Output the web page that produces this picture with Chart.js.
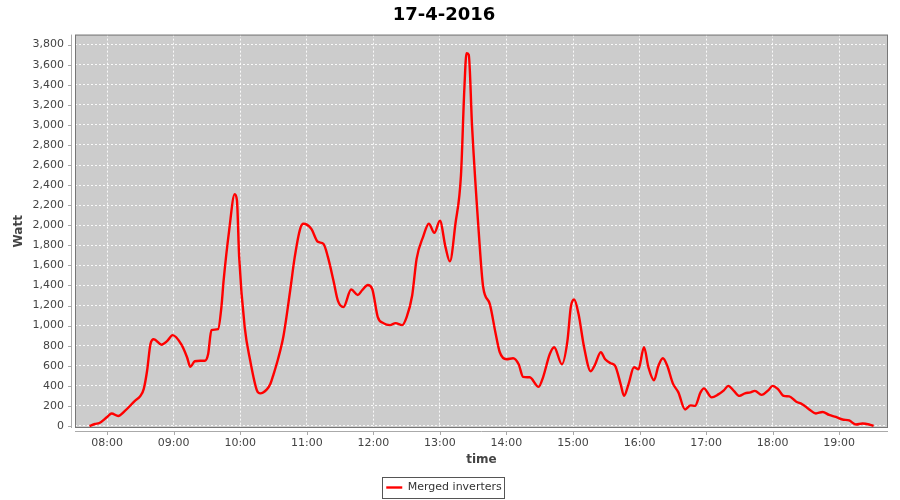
<!DOCTYPE html>
<html>
<head>
<meta charset="utf-8">
<title>17-4-2016</title>
<script src="https://cdn.jsdelivr.net/npm/chart.js@4.4.1/dist/chart.umd.min.js"></script>
<style>
  html, body { margin: 0; padding: 0; background: #fff; }
  #wrap { width: 900px; height: 500px; position: relative; }
</style>
</head>
<body>
<div id="wrap"><canvas id="chart"></canvas></div>
<script>
const chartTitle = "17-4-2016";
const seriesName = "Merged inverters";

// sample times (HH:MM) and power in watt
const times = [
  "07:44", "07:49", "07:53", "08:00", "08:04", "08:10", "08:16", "08:25", "08:30", "08:33",
  "08:36", "08:39", "08:42", "08:49", "08:54", "08:59", "09:07", "09:12", "09:15", "09:19",
  "09:24", "09:28", "09:31", "09:34", "09:40", "09:43", "09:45", "09:50", "09:55", "09:57",
  "09:59", "10:04", "10:09", "10:15", "10:18", "10:24", "10:27", "10:30", "10:34", "10:39",
  "10:45", "10:49", "10:54", "10:57", "11:04", "11:10", "11:15", "11:19", "11:24", "11:28",
  "11:33", "11:40", "11:46", "11:50", "11:55", "11:59", "12:04", "12:09", "12:15", "12:20",
  "12:26", "12:30", "12:35", "12:39", "12:45", "12:50", "12:55", "13:00", "13:05", "13:09",
  "13:14", "13:19", "13:22", "13:24", "13:26", "13:29", "13:35", "13:39", "13:45", "13:50",
  "13:54", "14:00", "14:06", "14:11", "14:15", "14:21", "14:29", "14:33", "14:39", "14:43",
  "14:50", "14:55", "14:58", "15:01", "15:05", "15:10", "15:16", "15:20", "15:25", "15:29",
  "15:34", "15:38", "15:43", "15:46", "15:50", "15:55", "15:59", "16:04", "16:08", "16:13",
  "16:17", "16:21", "16:25", "16:30", "16:35", "16:41", "16:46", "16:50", "16:55", "16:58",
  "17:05", "17:11", "17:16", "17:20", "17:25", "17:30", "17:35", "17:40", "17:44", "17:50",
  "17:56", "18:00", "18:05", "18:10", "18:15", "18:21", "18:27", "18:33", "18:39", "18:45",
  "18:51", "18:57", "19:03", "19:09", "19:15", "19:21", "19:27", "19:31"
];
const watts = [
  0, 20, 30, 90, 125, 100, 150, 250, 300, 370,
  550, 815, 865, 810, 845, 905, 810, 685, 590, 645,
  650, 650, 715, 955, 965, 1185, 1450, 1950, 2310, 2250,
  1685, 985, 650, 355, 325, 365, 415, 515, 665, 900,
  1350, 1675, 1965, 2015, 1965, 1835, 1815, 1685, 1450, 1250,
  1185, 1360, 1305, 1355, 1405, 1365, 1085, 1025, 1005, 1025,
  1005, 1085, 1300, 1665, 1890, 2015, 1925, 2045, 1785, 1640,
  2015, 2500, 3350, 3715, 3700, 2985, 1935, 1385, 1215, 935,
  735, 665, 675, 615, 490, 485, 390, 485, 715, 785,
  615, 850, 1185, 1260, 1115, 785, 545, 615, 735, 665,
  625, 600, 415, 300, 415, 585, 565, 785, 585, 455,
  600, 675, 600, 425, 335, 165, 205, 200, 335, 375,
  285, 315, 355, 400, 350, 300, 325, 335, 350, 310,
  355, 400, 365, 300, 295, 245, 215, 165, 125, 140,
  110, 90, 65, 55, 15, 25, 15, 0
];

const hourTicks = ["08:00", "09:00", "10:00", "11:00", "12:00", "13:00",
                   "14:00", "15:00", "16:00", "17:00", "18:00", "19:00"];
const wattTicks = [0, 200, 400, 600, 800, 1000, 1200, 1400, 1600, 1800,
                   2000, 2200, 2400, 2600, 2800, 3000, 3200, 3400, 3600, 3800];

const FONT = "DejaVu Sans";

function toMin(s) {
  const [h, m] = s.split(":");
  return Number(h) * 60 + Number(m);
}

function fmtMin(v) {
  const h = Math.floor(v / 60);
  const m = Math.round(v % 60);
  return String(h).padStart(2, "0") + ":" + String(m).padStart(2, "0");
}

const points = times.map((t, i) => ({ x: toMin(t), y: watts[i] }));

// grey plot background, frame, offset axis lines and legend box (JFreeChart look)
const plotFrame = {
  id: "plotFrame",
  beforeDraw(chart) {
    const { ctx, chartArea: a } = chart;
    ctx.save();
    ctx.fillStyle = "#cccccc";
    ctx.fillRect(a.left, a.top, a.right - a.left, a.bottom - a.top);
    ctx.restore();
  },
  afterDraw(chart) {
    const { ctx, chartArea: a, scales } = chart;
    ctx.save();
    ctx.strokeStyle = "#777";
    ctx.lineWidth = 1;
    ctx.strokeRect(a.left + 0.5, a.top + 0.5, a.right - a.left - 1, a.bottom - a.top - 1);

    // axis lines, set off from the plot
    ctx.strokeStyle = "#aaa";
    ctx.beginPath();
    ctx.moveTo(a.left - 3.5, a.top);
    ctx.lineTo(a.left - 3.5, a.bottom);
    ctx.moveTo(a.left, a.bottom + 3.5);
    ctx.lineTo(a.right, a.bottom + 3.5);
    // tick marks
    scales.y.ticks.forEach(t => {
      const y = Math.round(scales.y.getPixelForValue(t.value)) + 0.5;
      ctx.moveTo(a.left - 7, y);
      ctx.lineTo(a.left - 3.5, y);
    });
    scales.x.ticks.forEach(t => {
      const x = Math.round(scales.x.getPixelForValue(t.value)) + 0.5;
      ctx.moveTo(x, a.bottom + 3.5);
      ctx.lineTo(x, a.bottom + 7);
    });
    ctx.stroke();

    // legend border
    const hb = chart.legend && chart.legend.legendHitBoxes && chart.legend.legendHitBoxes[0];
    if (hb) {
      ctx.strokeStyle = "#555";
      ctx.strokeRect(Math.round(hb.left) - 3.5, Math.round(hb.top) - 4.5,
                     Math.round(hb.width) + 7, Math.round(hb.height) + 10);
    }
    ctx.restore();
  }
};

new Chart(document.getElementById("chart"), {
  type: "line",
  data: {
    datasets: [{
      label: seriesName,
      data: points,
      borderColor: "#ff0000",
      backgroundColor: "#ff0000",
      borderWidth: 2.4,
      pointRadius: 0,
      cubicInterpolationMode: "monotone",
      fill: false
    }]
  },
  options: {
    responsive: true,
    maintainAspectRatio: false,
    animation: false,
    layout: { padding: { left: 0, right: 12, top: 0, bottom: -3 } },
    plugins: {
      title: {
        display: true,
        text: chartTitle,
        color: "#000",
        font: { family: FONT, size: 18, weight: "bold" },
        padding: { top: 5, bottom: 8 }
      },
      legend: {
        position: "bottom",
        labels: {
          usePointStyle: true,
          pointStyle: "line",
          pointStyleWidth: 16,
          color: "#333",
          font: { family: FONT, size: 11 },
          padding: 4
        }
      },
      tooltip: { enabled: false }
    },
    scales: {
      x: {
        type: "linear",
        min: 451,
        max: 1184,
        afterBuildTicks: s => { s.ticks = hourTicks.map(t => ({ value: toMin(t) })); },
        afterFit: s => { s.height = 50; },
        ticks: {
          callback: v => fmtMin(v),
          color: "#444",
          font: { family: FONT, size: 11 },
          padding: 9,
          autoSkip: false,
          maxRotation: 0
        },
        grid: { color: "rgba(255,255,255,0.9)", lineWidth: 1, drawTicks: false },
        border: { display: false, dash: [2, 2] },
        title: {
          display: true,
          text: "time",
          color: "#444",
          font: { family: FONT, size: 12, weight: "bold" },
          padding: { top: 4, bottom: 11 }
        }
      },
      y: {
        min: -20,
        max: 3900,
        afterBuildTicks: s => { s.ticks = wattTicks.map(v => ({ value: v })); },
        afterFit: s => { s.width = 75; },
        ticks: {
          callback: v => v.toLocaleString("en-US"),
          color: "#444",
          font: { family: FONT, size: 11 },
          padding: 11
        },
        grid: { color: "rgba(255,255,255,0.9)", lineWidth: 1, drawTicks: false },
        border: { display: false, dash: [2, 2] },
        title: {
          display: true,
          text: "Watt",
          color: "#444",
          font: { family: FONT, size: 12, weight: "bold" },
          padding: { top: 12, bottom: 0 }
        }
      }
    }
  },
  plugins: [plotFrame]
});
</script>
</body>
</html>
